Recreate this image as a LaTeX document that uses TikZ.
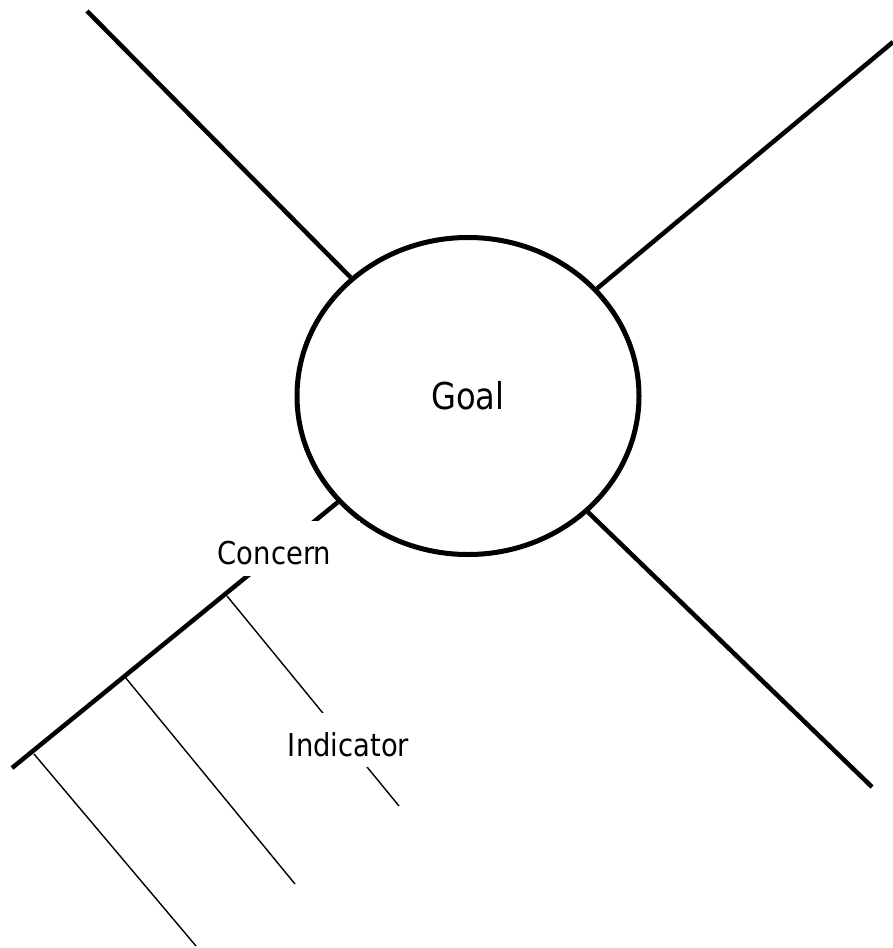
\documentclass[tikz,border=0pt]{standalone}
\usepackage{fontspec}
\setmainfont[FakeStretch=0.87]{DejaVu Sans}
\usetikzlibrary{shapes.geometric}
\tikzset{
	spine/.style={line width=4.5pt},
	rib/.style={line width=1.4pt},
	tag/.style={fill=white, inner sep=0pt, text height=43.5pt, text depth=11pt,
		minimum width=171pt, font=\fontsize{31.5}{36}\selectfont},
}
\begin{document}
\begin{tikzpicture}[x=1pt,y=-1pt]
			\useasboundingbox (0,0) rectangle (893,948);
			\node[draw, ellipse, line width=5pt, minimum width=342pt, minimum height=317pt,
				inner sep=0pt, font=\fontsize{37}{42}\selectfont] (goal) at (468,396) {Goal};
			\coordinate (tl) at (87,11);
			\coordinate (tr) at (893,42);
			\coordinate (br) at (872,787);
			\coordinate (bl) at (12,768);
			\draw[spine] (tl) -- (goal);
			\draw[spine] (tr) -- (goal);
			\draw[spine] (br) -- (goal);
			\draw[spine] (bl) -- (goal);
			\coordinate (r1) at (227,596);
			\coordinate (r1e) at (399,806);
			\coordinate (r2) at (125,677);
			\coordinate (r2e) at (295,884);
			\coordinate (r3) at (34,754);
			\coordinate (r3e) at (196,946);
			\draw[rib] (r1) -- (r1e);
			\draw[rib] (r2) -- (r2e);
			\draw[rib] (r3) -- (r3e);
			\node[tag] (concern) at (274.5,548.5) {Concern};
			\node[tag] (indicator) at (348.5,740) {Indicator};
		\end{tikzpicture}
\end{document}
